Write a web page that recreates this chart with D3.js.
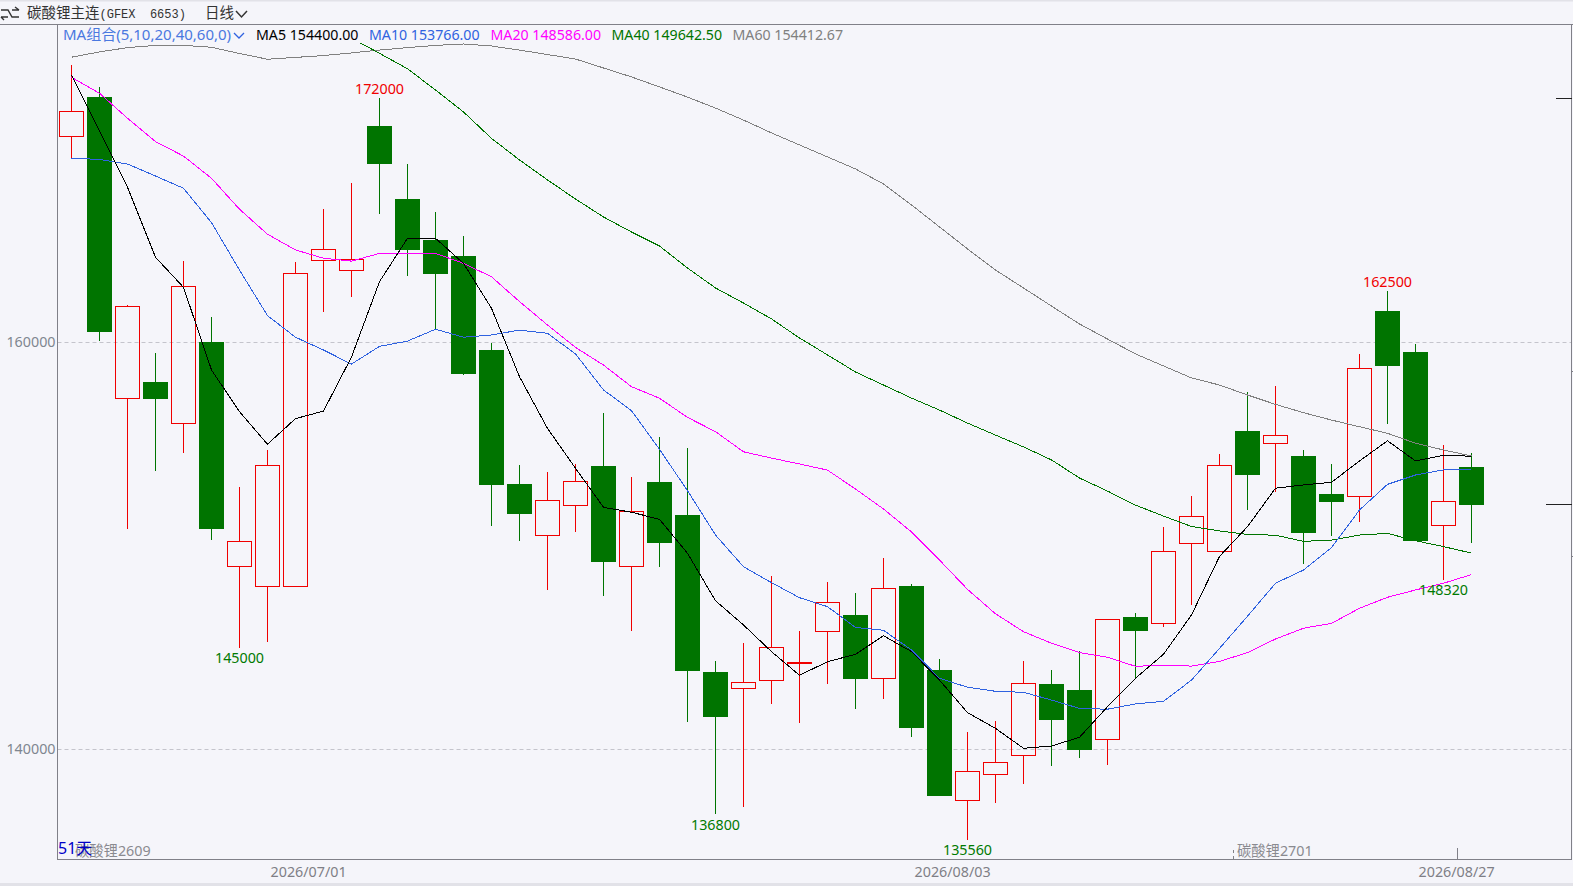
<!DOCTYPE html>
<html>
<head>
<meta charset="utf-8">
<title>碳酸锂主连</title>
<script src="https://cdn.jsdelivr.net/npm/d3@7"></script>
<style>
    html, body { margin: 0; padding: 0; background: #f5f5fa; overflow: hidden; }
    text { font-family: "Noto Sans", "Noto Sans CJK SC", sans-serif; }
</style>
</head>
<body>
<div id="chart"></div>
<script>
// candles
const opens = [170120,172050,157250,158050,156020,160020,148990,148010,148010,164030,163520,170630,167040,165030,164240,159620,153040,150520,151990,153920,148990,153140,151510,143800,143000,143390,144260,145800,146600,143490,148020,143900,137490,138770,139700,143210,142910,140490,146500,146190,150120,149710,155640,155040,154410,152550,152430,161540,159520,151010,153870];
const highs = [173630,172550,161830,159470,163990,161240,152890,154710,163950,166550,167830,172000,168760,166400,165220,159980,153970,153630,154020,156530,153380,155350,154810,144340,145220,148520,145810,148220,147680,149400,148120,144440,140850,141390,144340,143900,144830,146390,146700,150920,152450,154510,157560,157850,154710,154020,159430,162500,159920,154950,154560];
const lows = [169040,160060,150840,153680,154580,150300,145000,145290,148010,161500,162240,166320,163270,160640,158410,150990,150250,147840,150690,147550,145830,148970,141360,136800,137180,142240,141310,143220,142000,142490,140620,137720,135560,137360,138310,139190,139590,139240,143450,146020,147090,149710,151770,152660,149120,150500,151180,156000,150250,148320,150150];
const closes = [171350,160520,161770,157230,162750,150840,150220,153960,163390,164570,164080,168760,164540,163370,158460,153000,151580,152240,153170,149220,151700,150150,143860,141600,143290,145010,144260,147220,143470,147910,141060,137720,138920,139360,143240,141450,139980,146390,145830,149730,151450,153960,153490,155430,150640,152170,158720,158850,150250,152190,152020];

// moving averages
const ma5 = [173140,170380,167620,164180,162700,158640,156590,154990,156250,156620,159280,162980,165110,165110,163880,161670,158310,155770,153810,151890,151650,151300,149630,147300,146110,144800,143640,144300,144670,145580,144800,143400,141800,141030,140050,140160,140590,142090,143490,144670,146600,149480,150940,152830,152990,153120,154170,155160,154170,154450,154400];
const ma10 = [169040,168990,168760,168170,167570,165880,163550,161310,160250,159620,158930,159800,160060,160640,160250,160360,160600,160440,159430,157660,156640,154740,152710,150530,148970,148190,147450,147010,145990,145850,144880,143490,143050,142850,142800,142420,142010,141970,142230,142360,143400,144960,146540,148160,148810,149910,151760,153020,153480,153730,153766];
const ma20 = [173020,172240,171010,169860,169150,168060,166540,165310,164540,164130,163990,164370,164370,164370,163880,163220,162000,160850,159750,158880,157820,157250,156310,155610,154620,154310,154020,153720,152790,151810,150680,149300,147860,146660,145780,145210,144750,144520,144080,144130,144090,144320,144750,145420,145950,146190,146930,147470,147830,148160,148586];
const ma40 = [null,null,null,null,null,null,null,null,null,null,174950,174200,173440,172400,171320,170020,168960,167980,167040,166160,165420,164730,163650,162670,161930,161150,160210,159380,158540,157900,157260,156670,156030,155440,154860,154220,153330,152690,152000,151460,150950,150730,150560,150520,150220,150280,150530,150610,150250,149960,149642.5];
const ma60 = [174010,174270,174480,174590,174590,174500,174190,173910,174000,174090,174220,174360,174480,174590,174660,174560,174360,174140,173920,173480,173040,172550,172050,171510,170920,170290,169700,169110,168520,167780,166750,165670,164590,163550,162670,161780,160900,160160,159430,158840,158250,157900,157410,156950,156540,156180,155850,155530,155040,154710,154412.67];

const yTicks = [160000, 140000];
const dateLabels = ["2026/07/01", "2026/08/03", "2026/08/27"];
const dateIndex = [8.45, 31.45, 49.45];

// high/low labels: bar index and price
const peakIndex = [11, 47];
const peakValue = [172000, 162500];
const troughIndex = [6, 23, 32, 49];
const troughValue = [145000, 136800, 135560, 148320];

const legendNames = ["MA5 154400.00", "MA10 153766.00", "MA20 148586.00", "MA40 149642.50", "MA60 154412.67"];
const legendX = [256, 369, 490.5, 611.5, 732.5];
const maColors = ["#000000", "#2f62e0", "#ff00ff", "#007400", "#808080"];

const bg = "#f5f5fa", red = "#f00000", green = "#007400", frame = "#808088";
const panelLeft = 57.5, panelRight = 1571.5, panelTop = 24.5, panelBottom = 859.5;
const textSize = "14.3px";

const svg = d3.select("#chart").append("svg")
    .attr("width", 1573)
    .attr("height", 886)
    .style("display", "block");

svg.append("rect").attr("width", 1573).attr("height", 886).attr("fill", bg);
svg.append("rect").attr("width", 1573).attr("height", 1.5).attr("fill", "#e2e2e8");
svg.append("rect").attr("y", 883).attr("width", 1573).attr("height", 3).attr("fill", "#e2e2e8");

svg.append("defs").append("clipPath").attr("id", "panel")
    .append("rect").attr("x", panelLeft).attr("y", panelTop)
    .attr("width", panelRight - panelLeft).attr("height", panelBottom - panelTop);

const x = d3.scaleLinear().domain([0, 50]).range([71.5, 1471.5]);
const y = d3.scaleLinear().domain([140000, 160000]).range([749.3, 342.3]);

// grid
svg.append("g").selectAll("line").data(yTicks).join("line")
    .attr("x1", panelLeft).attr("x2", panelRight)
    .attr("y1", d => Math.floor(y(d)) + .5)
    .attr("y2", d => Math.floor(y(d)) + .5)
    .attr("stroke", "#c4c4cc")
    .attr("stroke-dasharray", "4,3");

// price axis
const yAxis = svg.append("g")
    .attr("transform", `translate(${panelLeft},0)`)
    .call(d3.axisLeft(y).tickValues(yTicks).tickSize(0).tickPadding(2).tickFormat(d => d));
yAxis.select(".domain").remove();
yAxis.selectAll("text").attr("fill", "#7f8690").style("font-size", textSize);

// date axis
const xAxis = svg.append("g")
    .attr("transform", `translate(0,${panelBottom})`)
    .call(d3.axisBottom(x).tickValues(dateIndex).tickSize(0).tickPadding(7)
        .tickFormat((d, i) => dateLabels[i]));
xAxis.select(".domain").remove();
xAxis.selectAll("text").attr("fill", "#7f7f86").style("font-size", textSize);

// candles
const candles = svg.append("g").attr("shape-rendering", "crispEdges");
opens.forEach(function (open, i) {
    const up = closes[i] >= open;
    const color = up ? red : green;
    const bodyTop = y(Math.max(open, closes[i]));
    const bodyBottom = y(Math.min(open, closes[i]));
    const cx = x(i);

    candles.append("line")
        .attr("x1", cx).attr("x2", cx)
        .attr("y1", y(highs[i])).attr("y2", bodyTop)
        .attr("stroke", color);
    candles.append("line")
        .attr("x1", cx).attr("x2", cx)
        .attr("y1", bodyBottom).attr("y2", y(lows[i]))
        .attr("stroke", color);

    if (open === closes[i]) {
        candles.append("rect")
            .attr("x", cx - 12.5).attr("y", bodyTop - 1)
            .attr("width", 25).attr("height", 2)
            .attr("fill", color);
    } else if (up) {
        candles.append("rect")
            .attr("x", cx - 12).attr("y", Math.round(bodyTop) + .5)
            .attr("width", 24).attr("height", Math.round(bodyBottom - bodyTop))
            .attr("fill", "none")
            .attr("stroke", color);
    } else {
        candles.append("rect")
            .attr("x", cx - 12.5).attr("y", bodyTop)
            .attr("width", 25).attr("height", bodyBottom - bodyTop)
            .attr("fill", color);
    }
});

// moving average lines
const line = d3.line()
    .defined(d => d !== null)
    .x((d, i) => x(i))
    .y(d => y(d));

const lines = svg.append("g").attr("clip-path", "url(#panel)");
[ma60, ma40, ma20, ma10, ma5].forEach(function (series, k) {
    lines.append("path")
        .attr("d", line(series))
        .attr("fill", "none")
        .attr("stroke", maColors[4 - k])
        .attr("stroke-width", 1)
        .attr("shape-rendering", "crispEdges");
});

// high / low labels
svg.append("g").selectAll("text").data(peakIndex).join("text")
    .attr("x", d => x(d))
    .attr("y", (d, i) => y(peakValue[i]) - 4.5)
    .attr("text-anchor", "middle")
    .attr("fill", "#f00000")
    .style("font-size", textSize)
    .text((d, i) => peakValue[i]);

svg.append("g").selectAll("text").data(troughIndex).join("text")
    .attr("x", d => x(d))
    .attr("y", (d, i) => y(troughValue[i]) + 15.5)
    .attr("text-anchor", "middle")
    .attr("fill", "#007a00")
    .style("font-size", textSize)
    .text((d, i) => troughValue[i]);

// legend sits on its own background and hides the MA40 tail
svg.append("rect").attr("x", panelLeft + .5).attr("y", panelTop + .5)
    .attr("width", panelRight - panelLeft - 1).attr("height", 18).attr("fill", bg);
svg.append("text").attr("x", 63).attr("y", 40)
    .attr("fill", "#4a78e0").style("font-size", "15px")
    .text("MA组合(5,10,20,40,60,0)");
svg.append("path").attr("d", "M234 33l5 5 5-5")
    .attr("fill", "none").attr("stroke", "#2f62e0").attr("stroke-width", 1.3);
svg.append("g").selectAll("text").data(legendNames).join("text")
    .attr("x", (d, i) => legendX[i])
    .attr("y", 40)
    .attr("fill", (d, i) => maColors[i])
    .style("font-size", "14.2px")
    .text(d => d);

// frame
svg.append("path")
    .attr("d", `M0 ${panelTop}H1573M${panelLeft} ${panelTop}V${panelBottom}H${panelRight}M${panelRight} ${panelTop}V${panelBottom}`)
    .attr("fill", "none")
    .attr("stroke", frame)
    .attr("shape-rendering", "crispEdges");

// small marks on the frame
svg.append("path").attr("d", `M1556 98.5H${panelRight}M1546 504.5H${panelRight}`)
    .attr("stroke", "#222").attr("shape-rendering", "crispEdges");
svg.append("path").attr("d", `M${panelRight} 371.5h2M${panelRight} 556.5h2M1457.5 848V${panelBottom}`)
    .attr("stroke", frame).attr("shape-rendering", "crispEdges");
svg.append("path").attr("d", `M1233.5 850V${panelBottom}`)
    .attr("stroke", frame).attr("stroke-dasharray", "3,3").attr("shape-rendering", "crispEdges");

// contract labels at the bottom
svg.append("text").attr("x", 75).attr("y", 856)
    .attr("fill", "#8a8a90").style("font-size", textSize).text("碳酸锂2609");
svg.append("text").attr("x", 1237).attr("y", 856)
    .attr("fill", "#8a8a90").style("font-size", textSize).text("碳酸锂2701");
svg.append("text").attr("x", 58).attr("y", 854)
    .attr("fill", "#0000c8").style("font-size", "16px").text("51天");

// title bar
svg.append("path")
    .attr("d", "M1 10H8L12 17H19M1 17H8M12 10H19M19 10L15 7M1 17L4 20")
    .attr("fill", "none").attr("stroke", "#333").attr("stroke-width", 1.4);
const title = svg.append("text").attr("x", 27).attr("y", 18).attr("fill", "#333").style("font-size", "14.5px");
title.append("tspan").text("碳酸锂主连");
title.append("tspan").style("font-family", "'Liberation Mono', monospace").style("font-size", "12px")
    .text("(GFEX\u00a0\u00a06653)");
svg.append("text").attr("x", 205).attr("y", 18).attr("fill", "#333").style("font-size", "14.5px").text("日线");
svg.append("path").attr("d", "M236 11l5.5 6 5.5-6")
    .attr("fill", "none").attr("stroke", "#333").attr("stroke-width", 1.5);
</script>
</body>
</html>
